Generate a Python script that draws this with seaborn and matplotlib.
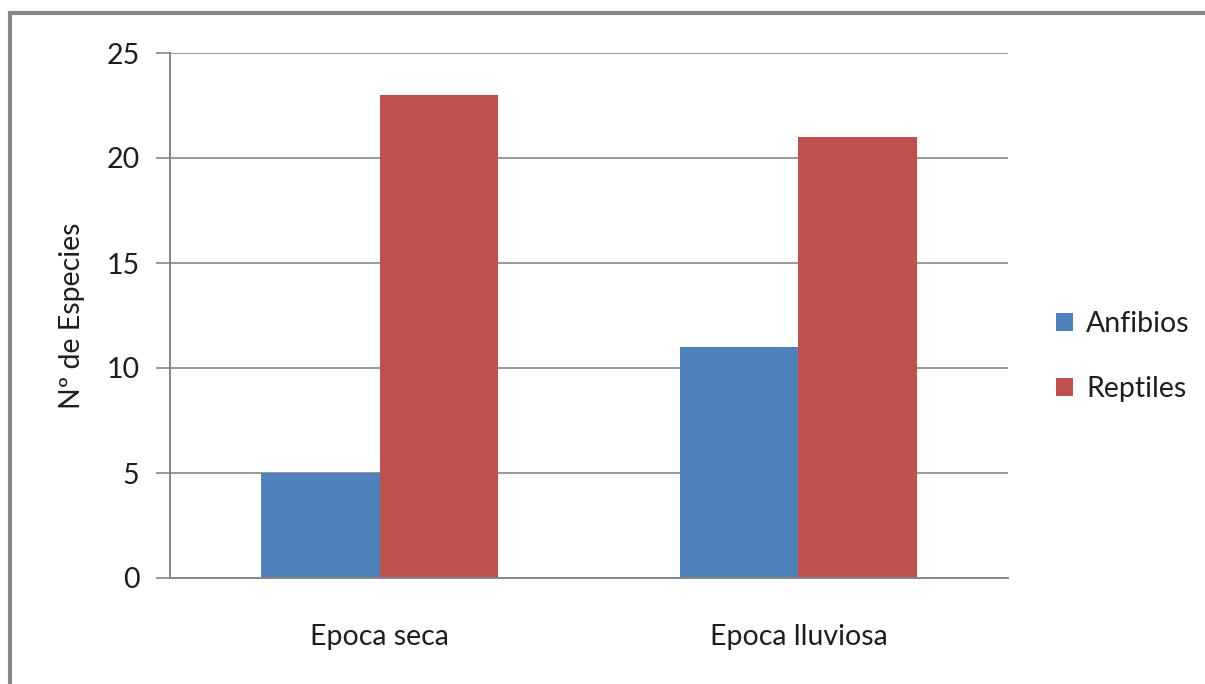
import matplotlib
matplotlib.use("Agg")
import matplotlib.pyplot as plt
from matplotlib.patches import Rectangle
import seaborn as sns
import pandas as pd

# Species counts per season
seasons = ["Epoca seca", "Epoca lluviosa"]
groups = ["Anfibios", "Reptiles"]
anfibios = [5, 11]
reptiles = [23, 21]
y_ticks = [0, 5, 10, 15, 20, 25]

df = pd.DataFrame({
    "Epoca": seasons * 2,
    "Grupo": [groups[0]] * len(seasons) + [groups[1]] * len(seasons),
    "Especies": anfibios + reptiles,
})

sns.set_theme(style="white")
plt.rcParams["font.family"] = ["Lato", "DejaVu Sans"]

grid_col = "#868686"
txt_col = "#1e1e1e"
fs = 20.5
fig = plt.figure(figsize=(12.05, 6.84), dpi=100)
ax = fig.add_axes([170 / 1205, 1 - 578 / 684, (1008 - 170) / 1205, (578 - 53) / 684])

sns.barplot(data=df, x="Epoca", y="Especies", hue="Grupo", order=seasons,
            hue_order=groups, palette=["#4F81BD", "#C0504D"], width=0.568,
            saturation=1, linewidth=0, ax=ax, legend=True)

ax.set_ylim(0, 25)
ax.set_yticks(y_ticks)
ax.set_yticklabels([str(t) for t in y_ticks])
ax.set_xlim(-0.5, 1.5)
ax.grid(axis="y", color=grid_col, linewidth=1.2)
ax.set_axisbelow(True)
for s in ["top", "right"]:
    ax.spines[s].set_visible(False)
for s in ["left", "bottom"]:
    ax.spines[s].set_color(grid_col)
    ax.spines[s].set_linewidth(1.4)
ax.tick_params(axis="y", which="major", direction="out", length=10, width=1.2,
               color=grid_col, labelsize=fs, pad=12, left=True)
ax.tick_params(axis="x", length=0, labelsize=fs, pad=33)
for lbl in ax.get_xticklabels() + ax.get_yticklabels():
    lbl.set_color(txt_col)
ax.set_xlabel("")
ax.set_ylabel("Nº de Especies", fontsize=fs, color=txt_col, labelpad=15)

leg = ax.legend(loc="center left", bbox_to_anchor=(1.027, 0.422), frameon=False,
                fontsize=fs, handlelength=0.6, handleheight=0.6,
                handletextpad=0.45, labelspacing=1.35)
for t in leg.get_texts():
    t.set_color(txt_col)

# Chart area border
fig.patches.append(Rectangle((10 / 1205, -0.05), 1.2, 1.05 - 13 / 684,
                             transform=fig.transFigure, fill=False,
                             edgecolor="#878787", linewidth=3))

fig.savefig("out.png", dpi=100)
